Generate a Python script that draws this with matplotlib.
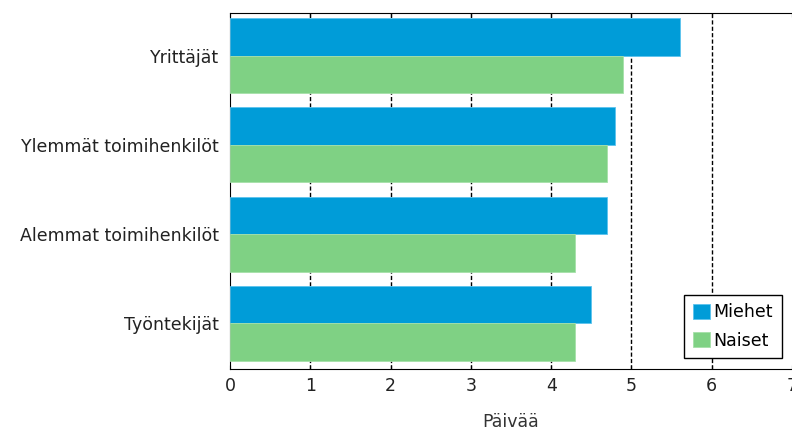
import numpy as np
import matplotlib
matplotlib.use("Agg")
import matplotlib.pyplot as plt

# data
ryhmat = ["Yrittäjät", "Ylemmät toimihenkilöt", "Alemmat toimihenkilöt", "Työntekijät"]
miehet = [5.6, 4.8, 4.7, 4.5]
naiset = [4.9, 4.7, 4.3, 4.3]

sininen = "#009cd8"
vihrea = "#7fd184"

plt.rcParams["font.family"] = ["DejaVu Sans"]

fig = plt.figure(figsize=(7.92, 4.32), dpi=100)
ax = fig.add_axes([230 / 792, 1 - 369 / 432, 562 / 792, 356 / 432])

y = np.arange(len(ryhmat))
h = 0.42
ax.barh(y - h / 2, miehet, height=h, color=sininen, edgecolor="#5cc3ee", linewidth=0.6,
        label="Miehet", zorder=3)
ax.barh(y + h / 2, naiset, height=h, color=vihrea, edgecolor="#a6e0a9", linewidth=0.6,
        label="Naiset", zorder=3)

ax.set_ylim(3.51, -0.476)
ax.set_xlim(0, 7)
ax.set_yticks(y)
ax.set_yticklabels(ryhmat, fontsize=12.5, color="#222222")
ax.set_xticks(range(8))
ax.tick_params(axis="x", labelsize=12.5, labelcolor="#222222", direction="in", length=3,
               top=True, pad=6)
ax.tick_params(axis="y", length=0, pad=8)

for k in range(1, 7):
    ax.axvline(k, color="black", linestyle=(0, (3, 1.6)), linewidth=1, zorder=1)

ax.spines["right"].set_visible(False)
ax.set_xlabel("Päivää", fontsize=12.5, color="#333333", labelpad=13)

leg = ax.legend(loc="lower right", bbox_to_anchor=(0.982, 0.03), fontsize=12.5,
                frameon=True, fancybox=False, edgecolor="black", framealpha=1,
                handlelength=1.0, handleheight=1.0, handletextpad=0.2, borderpad=0.5,
                labelspacing=0.6, borderaxespad=0)
leg.get_frame().set_linewidth(1)

fig.savefig("out.png", dpi=100)
